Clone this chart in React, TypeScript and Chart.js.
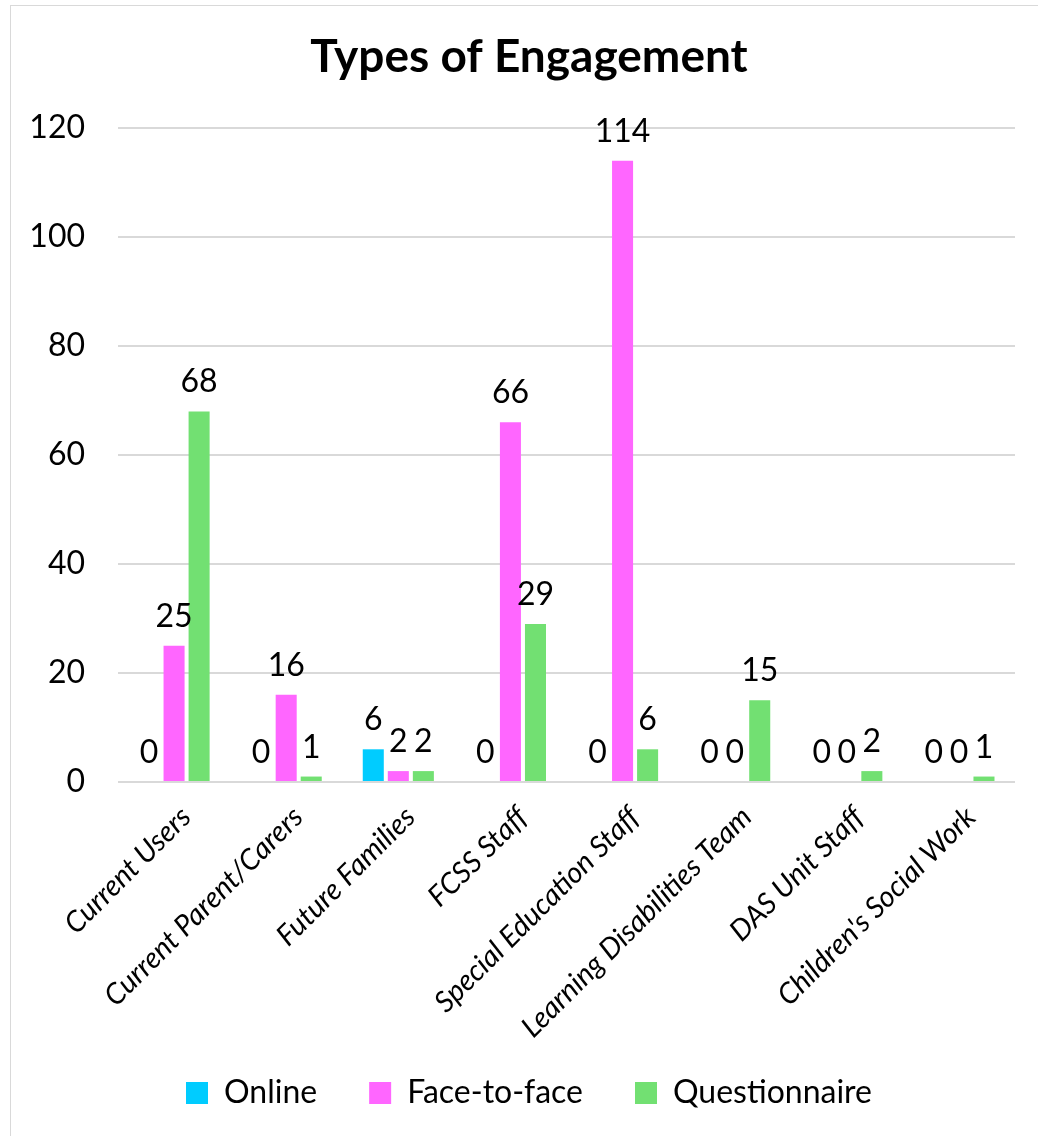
import React, { useEffect, useRef } from "react";
import { Chart, registerables } from "chart.js";

Chart.register(...registerables);

const categories = [
  "Current Users",
  "Current Parent/Carers",
  "Future Families",
  "FCSS Staff",
  "Special Education Staff",
  "Learning Disabilities Team",
  "DAS Unit Staff",
  "Children's Social Work",
];
const onlineValues = [0, 0, 6, 0, 0, 0, 0, 0];
const faceToFaceValues = [25, 16, 2, 66, 114, 0, 0, 0];
const questionnaireValues = [68, 1, 2, 29, 6, 15, 2, 1];
const yTicks = [0, 20, 40, 60, 80, 100, 120];

const FONT = "Lato, 'Open Sans', sans-serif";
const CANVAS_W = 1038;
const CANVAS_H = 1119;
const LEGEND_PAD = 52;

export default function App() {
  const ref = useRef<HTMLCanvasElement | null>(null);

  useEffect(() => {
    const canvas = ref.current;
    if (!canvas) return;

    const noClipPlugin = {
      id: "noLabelClip",
      afterLayout(chart: any) {
        Object.values(chart.scales).forEach((s: any) => {
          s._computeLabelArea = () => undefined;
        });
      },
    };

    const labelPlugin = {
      id: "valueLabels",
      afterDatasetsDraw(chart: any) {
        const ctx = chart.ctx;
        ctx.save();
        ctx.font = `32px ${FONT}`;
        ctx.fillStyle = "#000000";
        ctx.textAlign = "center";
        ctx.textBaseline = "alphabetic";
        chart.data.datasets.forEach((ds: any, di: number) => {
          const meta = chart.getDatasetMeta(di);
          meta.data.forEach((el: any, i: number) => {
            const v = ds.data[i];
            ctx.fillText(String(v), el.x, el.y - 19);
          });
        });
        ctx.restore();
      },
    };

    const chart = new Chart(canvas, {
      type: "bar",
      data: {
        labels: categories,
        datasets: [
          {
            label: "Online",
            data: onlineValues,
            backgroundColor: "#00CCFF",
            categoryPercentage: 0.67,
            barPercentage: 0.84,
          },
          {
            label: "Face-to-face",
            data: faceToFaceValues,
            backgroundColor: "#FF66FF",
            categoryPercentage: 0.67,
            barPercentage: 0.84,
          },
          {
            label: "Questionnaire",
            data: questionnaireValues,
            backgroundColor: "#72E072",
            categoryPercentage: 0.67,
            barPercentage: 0.84,
          },
        ],
      },
      options: {
        responsive: false,
        animation: false,
        layout: { padding: { left: 43, right: 23, top: 0, bottom: 0 } },
        plugins: {
          title: {
            display: true,
            text: "Types of Engagement",
            color: "#000000",
            font: { family: FONT, size: 46, weight: "bold" },
            padding: { top: 29.4, bottom: 43.4 },
          },
          legend: {
            display: true,
            position: "bottom",
            labels: {
              color: "#000000",
              font: { family: FONT, size: 32 },
              boxWidth: 22,
              boxHeight: 22,
              padding: LEGEND_PAD,
            },
          },
          tooltip: { enabled: false },
        },
        scales: {
          x: {
            grid: { display: false },
            border: { display: false },
            ticks: {
              color: "#000000",
              font: { family: FONT, size: 29, style: "italic" },
              minRotation: 45,
              maxRotation: 45,
              autoSkip: false,
              padding: 10,
              labelOffset: 12,
            },
            afterFit(scale: any) {
              scale.height = 1093 - LEGEND_PAD - 16 - 782;
            },
          },
          y: {
            min: 0,
            max: 120,
            grid: { color: "#d9d9d9", lineWidth: 2, drawTicks: false },
            border: { display: false },
            afterBuildTicks(scale: any) {
              scale.ticks = yTicks.map((v) => ({ value: v }));
            },
            ticks: {
              color: "#000000",
              font: { family: FONT, size: 32 },
              padding: 33,
            },
            afterFit(scale: any) {
              scale.width = 75;
            },
          },
        },
      },
      plugins: [noClipPlugin, labelPlugin],
    });

    return () => chart.destroy();
  }, []);

  return (
    <div
      style={{
        position: "fixed",
        left: 0,
        top: 0,
        width: CANVAS_W,
        height: 1136,
        overflow: "hidden",
        background: "#ffffff",
      }}
    >
      <div
        style={{
          position: "absolute",
          left: 10,
          top: 5,
          right: -10,
          bottom: -10,
          border: "1.5px solid #d9d9d9",
        }}
      />
      <canvas
        ref={ref}
        width={CANVAS_W}
        height={CANVAS_H}
        style={{ display: "block", position: "relative" }}
      />
    </div>
  );
}
